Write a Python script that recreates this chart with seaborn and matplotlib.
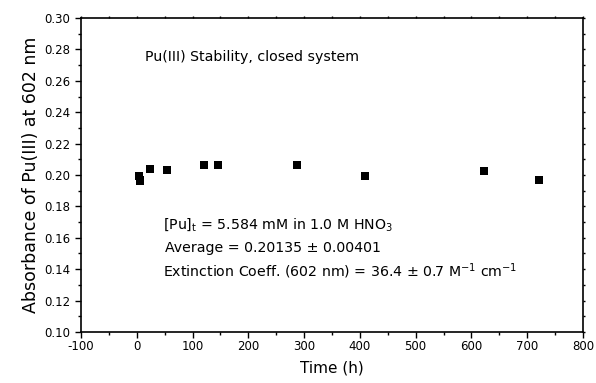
import matplotlib
matplotlib.use("Agg")
import matplotlib.pyplot as plt
import seaborn as sns
import pandas as pd
from matplotlib.ticker import MultipleLocator, FormatStrFormatter

time_h = [4, 6, 6, 24, 54, 120, 145, 288, 409, 623, 721]
absorb = [0.1994, 0.1968, 0.1960, 0.2036, 0.2032, 0.2062, 0.2066, 0.2064, 0.1994, 0.2023, 0.1970]

title_text = "Pu(III) Stability, closed system"
line1 = r"[Pu]$_{\mathregular{t}}$ = 5.584 mM in 1.0 M HNO$_{\mathregular{3}}$"
line2 = "Average = 0.20135 ± 0.00401"
line3 = r"Extinction Coeff. (602 nm) = 36.4 ± 0.7 M$^{\mathregular{-1}}$ cm$^{\mathregular{-1}}$"

sns.set_style("ticks")
plt.rcParams['font.family'] = ['DejaVu Sans']
plt.rcParams['mathtext.fontset'] = 'dejavusans'
plt.rcParams['axes.unicode_minus'] = False
for k in ['text.color', 'axes.labelcolor', 'xtick.color', 'ytick.color']:
    plt.rcParams[k] = 'black'

df = pd.DataFrame({"Time (h)": time_h, "Abs": absorb})

fig = plt.figure(figsize=(5.96, 3.83), dpi=100)
ax = fig.add_axes([81/596, 1-332/383, (583-81)/596, (332-18)/383])
sns.scatterplot(data=df, x="Time (h)", y="Abs", ax=ax, marker="s", s=40,
                color="black", edgecolor="black", linewidth=0)

ax.set_xlim(-100, 800)
ax.set_ylim(0.10, 0.30)
ax.xaxis.set_major_locator(MultipleLocator(100))
ax.xaxis.set_minor_locator(MultipleLocator(50))
ax.yaxis.set_major_locator(MultipleLocator(0.02))
ax.yaxis.set_minor_locator(MultipleLocator(0.01))
ax.yaxis.set_major_formatter(FormatStrFormatter("%.2f"))

for s in ax.spines.values():
    s.set_linewidth(1.2)
    s.set_color("black")
ax.tick_params(which="major", direction="out", length=4, width=1, labelsize=8.5, pad=2,
               top=True, right=True)
ax.tick_params(which="major", axis="y", pad=4)
ax.tick_params(which="minor", direction="out", length=2.5, width=1, top=True, right=True)
for t in ax.xaxis.get_major_ticks() + ax.xaxis.get_minor_ticks():
    t.tick2line.set_markersize(1.5)
for t in ax.yaxis.get_major_ticks() + ax.yaxis.get_minor_ticks():
    t.tick2line.set_markersize(1.5)

ax.set_xlabel("Time (h)", fontsize=11, labelpad=5)
ax.set_ylabel("Absorbance of Pu(III) at 602 nm", fontsize=12.5, labelpad=3)

fs = 10.2
ax.text(15, 0.2752, title_text, fontsize=fs, va="center", ha="left")
ax.text(47, 0.1682, line1, fontsize=fs, va="center", ha="left")
ax.text(50, 0.1535, line2, fontsize=fs, va="center", ha="left")
ax.text(47, 0.1389, line3, fontsize=fs, va="center", ha="left")

fig.savefig("out.png", dpi=100)
